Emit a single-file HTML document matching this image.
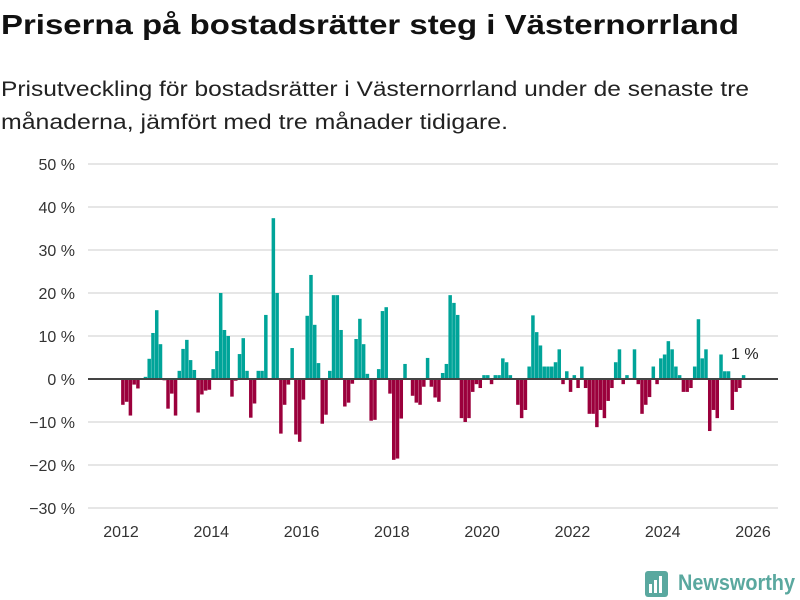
<!DOCTYPE html>
<html><head><meta charset="utf-8"><style>
body{margin:0;background:#fff;}
svg{display:block;font-family:"Liberation Sans",sans-serif;}
</style></head><body>
<svg id="chart" width="800" height="600" viewBox="0 0 800 600" xmlns="http://www.w3.org/2000/svg">
<text x="1" y="34" font-size="28" font-weight="bold" fill="#111" textLength="738" lengthAdjust="spacingAndGlyphs">Priserna på bostadsrätter steg i Västernorrland</text>
<text x="1" y="96" font-size="21" fill="#222" textLength="748" lengthAdjust="spacingAndGlyphs">Prisutveckling för bostadsrätter i Västernorrland under de senaste tre</text>
<text x="1" y="129" font-size="21" fill="#222" textLength="507" lengthAdjust="spacingAndGlyphs">månaderna, jämfört med tre månader tidigare.</text>
<g id="grid"></g><g id="bars"></g><g id="axes"></g>
<text x="731" y="359" font-size="16" fill="#222">1 %</text>
<g>
<rect x="645" y="571" width="23" height="26" rx="3" fill="#5aa89f"/>
<rect x="649" y="584" width="3" height="9" fill="#fff"/><rect x="654" y="580" width="3" height="13" fill="#fff"/><rect x="659" y="576" width="3" height="17" fill="#fff"/>
<text x="678" y="590" font-size="22" font-weight="bold" fill="#5aa89f" textLength="117" lengthAdjust="spacingAndGlyphs">Newsworthy</text>
</g>
</svg>
<script>
const values=[-6.0,-5.3,-8.5,-1.3,-2.2,0,0.5,4.7,10.7,16.0,8.1,-0.3,-6.9,-3.4,-8.5,1.9,7.0,9.1,4.4,2.1,-7.8,-3.6,-2.7,-2.5,2.3,6.5,20.0,11.4,10.0,-4.1,
-0.4,5.8,9.5,1.9,-9.0,-5.7,1.9,1.9,14.9,0,37.4,20.0,-12.7,-6.0,-1.3,7.2,-12.9,-14.6,-4.8,14.7,24.2,12.6,3.7,-10.4,-8.3,1.9,19.5,19.5,11.4,-6.4,
-5.5,-1.1,9.3,14.0,8.1,1.2,-9.7,-9.5,2.3,15.8,16.7,-3.4,-18.8,-18.5,-9.2,3.5,0,-3.9,-5.5,-6.0,-1.8,4.9,-1.8,-4.3,-5.3,1.4,3.5,19.5,17.7,14.9,
-9.1,-10.0,-9.1,-3.0,-1.2,-2.1,0.9,0.9,-1.2,0.9,0.9,4.8,3.9,0.9,0,-6.0,-9.1,-7.2,2.9,14.8,10.9,7.8,2.9,2.9,2.9,3.9,6.9,-1.2,1.8,-3.0,
0.9,-2.1,2.9,-2.1,-8.1,-8.1,-11.2,-7.2,-9.1,-5.1,-2.1,3.9,6.9,-1.2,0.9,0,6.9,-1.2,-8.1,-6.0,-4.2,2.9,-1.2,4.8,5.7,8.8,6.9,2.9,0.9,-3.0,
-3.0,-2.1,2.9,13.9,4.8,6.9,-12.1,-7.2,-9.1,5.7,1.8,1.8,-7.2,-3.0,-2.1,0.9];
const startYear=2012;
const yTicks=[50,40,30,20,10,0,-10,-20,-30];
const yearTicks=[2012,2014,2016,2018,2020,2022,2024,2026];
const NS="http://www.w3.org/2000/svg";
function y(v){return 379-v*4.3;}
function x(m){return 121+m*(632/168);}
function mk(t,a,p){const e=document.createElementNS(NS,t);for(const k in a)e.setAttribute(k,a[k]);p.appendChild(e);return e;}
const grid=document.getElementById('grid'),bars=document.getElementById('bars'),axes=document.getElementById('axes');
yTicks.forEach(t=>{
  const l=mk('line',{x1:88,x2:778,y1:y(t),y2:y(t),stroke:'#dedede','stroke-width':1.5},grid);
  
  
  const tx=mk('text',{x:75,y:y(t)+6,'font-size':16,fill:'#333','text-anchor':'end'},axes);
  tx.textContent=(t<0?'\u2212'+(-t):t)+' %';
  
  
});
values.forEach((v,i)=>{
  const cx=x(i+0.5);
  const r=mk('rect',{x:cx-1.75,width:3.5,y:Math.min(y(v),y(0)),height:Math.abs(y(v)-y(0)),fill:v>=0?'#00a499':'#9b003c'},bars);
  
  
});
const zl=mk('line',{x1:88,x2:778,y1:y(0),y2:y(0),stroke:'#444','stroke-width':2},axes);


yearTicks.forEach(yr=>{
  const tx=mk('text',{x:x((yr-startYear)*12),y:537,'font-size':16,fill:'#333','text-anchor':'middle'},axes);
  tx.textContent=yr;
  
  
});
</script>
</body></html>
